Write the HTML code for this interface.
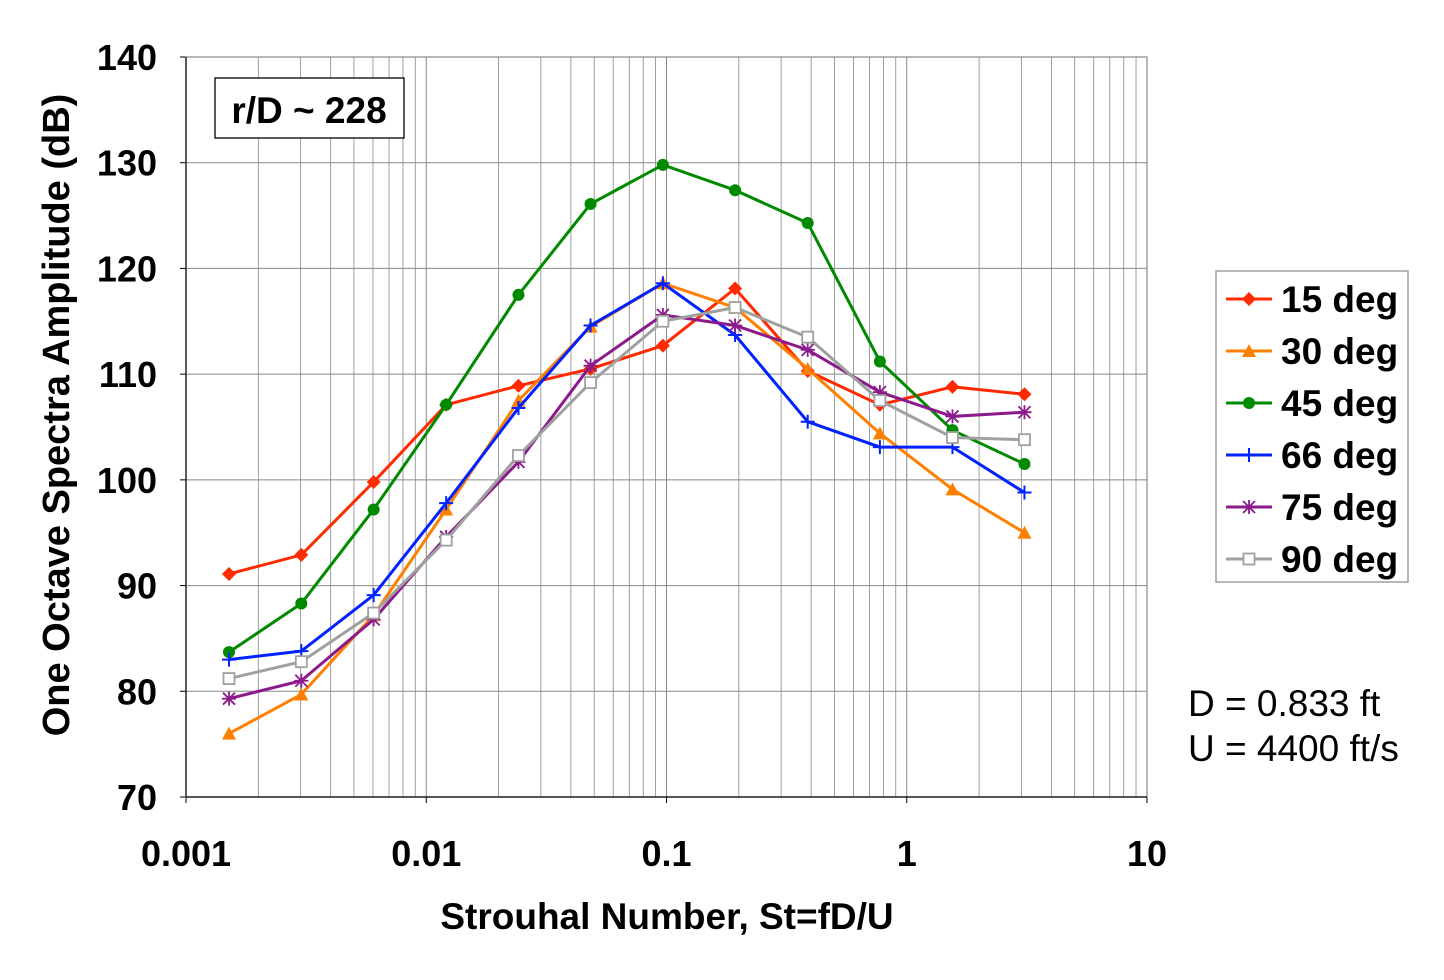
<!DOCTYPE html>
<html><head><meta charset="utf-8"><style>
body{margin:0;background:#fff}
svg text{font-family:"Liberation Sans",Arial,sans-serif}
</style></head><body>
<svg id="c" width="1444" height="975" viewBox="0 0 1444 975" xmlns="http://www.w3.org/2000/svg">
<g id="grid"></g>
<g id="axes"></g>
<g id="series"></g>
<g id="legend"></g>
<rect x="215" y="78" width="189" height="60" fill="#fff" stroke="#000" stroke-width="1.3"/>
<text x="309" y="123" font-size="37" font-weight="bold" text-anchor="middle">r/D ~ 228</text>
<text x="667" y="929" font-size="37" font-weight="bold" text-anchor="middle">Strouhal Number, St=fD/U</text>
<text transform="translate(69,415) rotate(-90)" font-size="38" font-weight="bold" text-anchor="middle">One Octave Spectra Amplitude (dB)</text>
<text x="1188" y="716" font-size="37">D = 0.833 ft</text>
<text x="1188" y="761" font-size="37">U = 4400 ft/s</text>
</svg>
<script>
const xValues=[0.00151,0.00302,0.00604,0.0121,0.0242,0.0483,0.0966,0.193,0.387,0.773,1.55,3.09];
const s15=[91.1,92.9,99.8,107.1,108.9,110.5,112.7,118.1,110.3,107.1,108.8,108.1];
const s30=[76.0,79.7,87.2,97.2,107.5,114.5,118.6,116.3,110.5,104.4,99.1,95.0];
const s45=[83.7,88.3,97.2,107.1,117.5,126.1,129.8,127.4,124.3,111.2,104.7,101.5];
const s66=[83.0,83.8,89.1,97.8,106.8,114.6,118.6,113.7,105.5,103.1,103.1,98.8];
const s75=[79.3,81.0,86.8,94.6,101.7,110.8,115.6,114.6,112.3,108.3,106.0,106.4];
const s90=[81.2,82.8,87.4,94.3,102.3,109.2,115.0,116.3,113.5,107.5,104.0,103.8];
const seriesNames=["15 deg","30 deg","45 deg","66 deg","75 deg","90 deg"];
const yTicks=[70,80,90,100,110,120,130,140];
const xTicks=["0.001","0.01","0.1","1","10"];
const NS="http://www.w3.org/2000/svg";
const L=186,R=1147,T=57,B=797;
const xs=v=>L+(Math.log10(v)+3)/4*(R-L);
const ys=v=>B-(v-70)/70*(B-T);
function mk(tag,attrs,parent){const e=document.createElementNS(NS,tag);for(const k in attrs)e.setAttribute(k,attrs[k]);parent.appendChild(e);return e;}
const grid=document.getElementById('grid'),axes=document.getElementById('axes');
for(let d=-3;d<1;d++)for(let m=1;m<10;m++){const x=xs(m*Math.pow(10,d));const l=mk('line',{x1:x,x2:x,y1:T,y2:B,stroke:'#888','stroke-width':m==1?1:0.8},grid);}
yTicks.forEach(v=>{const y=ys(v);const l=mk('line',{x1:L,x2:R,y1:y,y2:y,stroke:'#888','stroke-width':1},grid);
const t=mk('text',{x:157,y:y+13,'font-size':36,'font-weight':'bold','text-anchor':'end'},axes);t.textContent=v;
mk('line',{x1:L-6,x2:L,y1:y,y2:y,stroke:'#000'},axes);});
xTicks.forEach(s=>{const x=xs(parseFloat(s));const t=mk('text',{x:x,y:866,'font-size':36,'font-weight':'bold','text-anchor':'middle'},axes);t.textContent=s;mk('line',{x1:x,x2:x,y1:B,y2:B+6,stroke:'#000'},axes);});
mk('rect',{x:L,y:T,width:R-L,height:B-T,fill:'none',stroke:'#888','stroke-width':1.2},axes);
mk('line',{x1:L,x2:L,y1:T,y2:B,stroke:'#000','stroke-width':1.2},axes);
mk('line',{x1:L,x2:R,y1:B,y2:B,stroke:'#000','stroke-width':1.2},axes);
const colors=["#ff2a00","#ff8000","#008a00","#0022ff","#8b1a8b","#a0a0a0"];
const markers=["diamond","triangle","circle","plus","star","square"];
const all=[s15,s30,s45,s66,s75,s90];
function marker(g,type,x,y,c){
 if(type=="diamond")mk('polygon',{points:`${x},${y-7} ${x+7},${y} ${x},${y+7} ${x-7},${y}`,fill:c},g);
 else if(type=="triangle")mk('polygon',{points:`${x},${y-7} ${x+7},${y+6} ${x-7},${y+6}`,fill:c},g);
 else if(type=="circle")mk('circle',{cx:x,cy:y,r:6,fill:c},g);
 else if(type=="plus"){mk('path',{d:`M${x-7} ${y}H${x+7}M${x} ${y-7}V${y+7}`,stroke:c,'stroke-width':2},g);}
 else if(type=="star"){mk('path',{d:`M${x-6} ${y-6}L${x+6} ${y+6}M${x+6} ${y-6}L${x-6} ${y+6}M${x} ${y-7}V${y+7}M${x-7} ${y}H${x+7}`,stroke:c,'stroke-width':1.8},g);}
 else if(type=="square")mk('rect',{x:x-5.5,y:y-5.5,width:11,height:11,fill:'#fff',stroke:c,'stroke-width':1.8},g);
}
const sg=document.getElementById('series');
all.forEach((vals,i)=>{const g=mk('g',{},sg);
 const pts=vals.map((v,j)=>xs(xValues[j])+','+ys(v)).join(' ');
 mk('polyline',{points:pts,fill:'none',stroke:colors[i],'stroke-width':3},g);
 vals.forEach((v,j)=>marker(g,markers[i],xs(xValues[j]),ys(v),colors[i]));});
const lg=document.getElementById('legend');
const box=mk('rect',{x:1216,y:271,width:192,height:311,fill:'#fff',stroke:'#888','stroke-width':1.2},lg);

seriesNames.forEach((n,i)=>{const y=299+i*52;const g=mk('g',{},lg);
 mk('line',{x1:1226,x2:1272,y1:y,y2:y,stroke:colors[i],'stroke-width':3},g);marker(g,markers[i],1249,y,colors[i]);
 const t=mk('text',{x:1281,y:y+13,'font-size':37,'font-weight':'bold'},g);t.textContent=n;});
</script>
</body></html>
